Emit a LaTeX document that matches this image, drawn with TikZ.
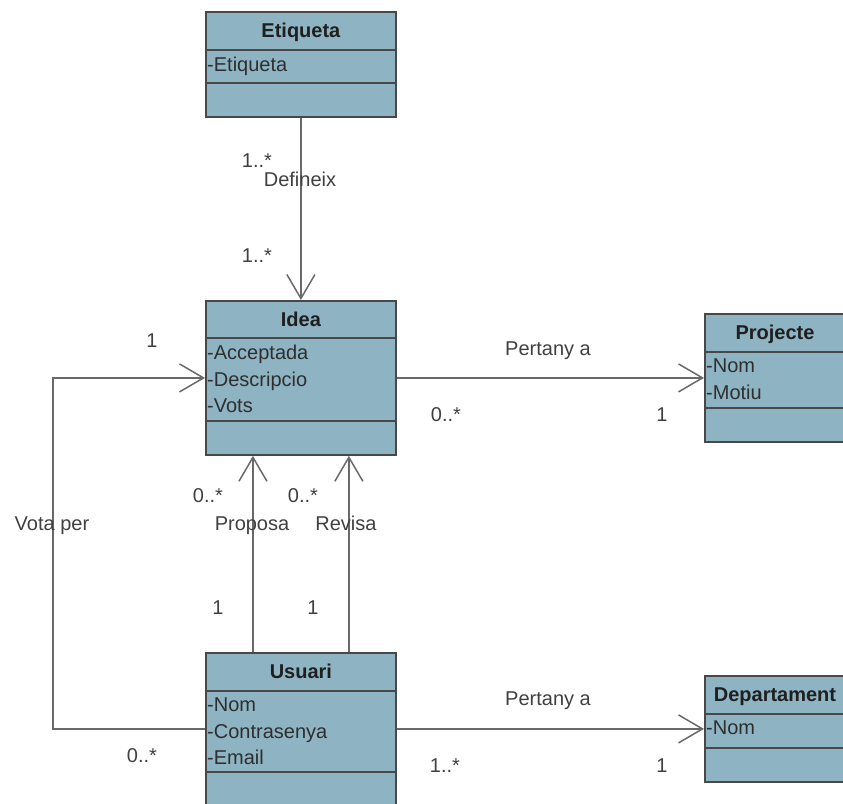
\documentclass[tikz,border=0pt]{standalone}
\usepackage{fontspec}
\setmainfont{Liberation Sans}
\usetikzlibrary{arrows.meta,calc}
\definecolor{clsfill}{RGB}{142,180,195}
\definecolor{clsline}{RGB}{72,72,72}
\definecolor{asscol}{RGB}{105,105,105}

\begin{document}
\begin{tikzpicture}[x=1pt, y=-1pt, font=\fontsize{20}{26.5}\selectfont,
          cls/.style={draw=clsline, fill=clsfill, line width=1.8pt, anchor=north west, inner sep=0pt},
          ttl/.style={font=\fontsize{20}{26.5}\selectfont\bfseries, text=black!88, inner sep=0pt, text height=14pt, text depth=0pt},
          attr/.style={align=left, anchor=north west, inner sep=0pt, text=black!82},
          div/.style={draw=clsline, line width=1.8pt},
          nav/.style={draw=asscol, line width=1.5pt, -{Straight Barb[length=24pt,width=28pt]}},
          lbl/.style={text=black!75, inner sep=0pt, text height=14pt, text depth=0pt}]
        \useasboundingbox (0,0) rectangle (843,803);
        % classes
        \node[cls, minimum width=190pt, minimum height=105pt] (etiq) at (205,11) {};
        \node[ttl] (etiqT) at ($(etiq.north)+(0,19.5)$) {Etiqueta};
        \node[attr] (etiqA) at (207,57) {-Etiqueta};
        \draw[div] (etiq.west |- 0,50) -- (etiq.east |- 0,50);
        \draw[div] (etiq.west |- 0,83) -- (etiq.east |- 0,83);

        \node[cls, minimum width=190pt, minimum height=154pt] (idea) at (205,300) {};
        \node[ttl] (ideaT) at ($(idea.north)+(0,19)$) {Idea};
        \node[attr] (ideaA) at (207,345) {-Acceptada\\-Descripcio\\-Vots};
        \draw[div] (idea.west |- 0,338) -- (idea.east |- 0,338);
        \draw[div] (idea.west |- 0,421) -- (idea.east |- 0,421);

        \node[cls, minimum width=145pt, minimum height=128pt] (proj) at (704,313) {};
        \node[ttl] (projT) at (775,332.5) {Projecte};
        \node[attr] (projA) at (706,359) {-Nom\\-Motiu};
        \draw[div] (proj.west |- 0,352) -- (proj.east |- 0,352);
        \draw[div] (proj.west |- 0,408) -- (proj.east |- 0,408);

        \node[cls, minimum width=145pt, minimum height=106pt] (dept) at (704,675) {};
        \node[ttl] (deptT) at (775,694.5) {Departament};
        \node[attr] (deptA) at (706,721) {-Nom};
        \draw[div] (dept.west |- 0,714) -- (dept.east |- 0,714);
        \draw[div] (dept.west |- 0,748) -- (dept.east |- 0,748);

        \node[cls, minimum width=190pt, minimum height=152pt] (usu) at (205,652) {};
        \node[ttl] (usuT) at ($(usu.north)+(0,19.5)$) {Usuari};
        \node[attr] (usuA) at (207,698) {-Nom\\-Contrasenya\\-Email};
        \draw[div] (usu.west |- 0,691) -- (usu.east |- 0,691);
        \draw[div] (usu.west |- 0,772) -- (usu.east |- 0,772);

        % associations
        \draw[nav] (etiq.south) -- (idea.north);
        \draw[nav] (idea.east) -- (proj.west);
        \draw[nav] (usu.west) -- ++(-152,0) |- (idea.west);
        \draw[nav] ($(usu.north west)!.25!(usu.north east)$) -- ($(idea.south west)!.25!(idea.south east)$);
        \draw[nav] ($(usu.north west)!.75!(usu.north east)$) -- ($(idea.south west)!.75!(idea.south east)$);
        \draw[nav] (usu.east) -- (dept.west);

        % labels
        \node[lbl] (defM1) at (257,160) {1..*};
        \node[lbl] (defN)  at (300,179) {Defineix};
        \node[lbl] (defM2) at (257,255) {1..*};
        \node[lbl] (perN1) at (548,348) {Pertany a};
        \node[lbl] (perM1) at (446,414) {0..*};
        \node[lbl] (perM2) at (662,414) {1};
        \node[lbl] (votM1) at (152,340) {1};
        \node[lbl] (votN)  at (52,523)  {Vota per};
        \node[lbl] (votM2) at (142,755) {0..*};
        \node[lbl] (proM1) at (208,495) {0..*};
        \node[lbl] (proN)  at (252,523) {Proposa};
        \node[lbl] (proM2) at (218,607) {1};
        \node[lbl] (revM1) at (303,495) {0..*};
        \node[lbl] (revN)  at (346,523) {Revisa};
        \node[lbl] (revM2) at (313,607) {1};
        \node[lbl] (perN2) at (548,698) {Pertany a};
        \node[lbl] (perM3) at (445,765) {1..*};
        \node[lbl] (perM4) at (662,765) {1};
      \end{tikzpicture}
\end{document}
